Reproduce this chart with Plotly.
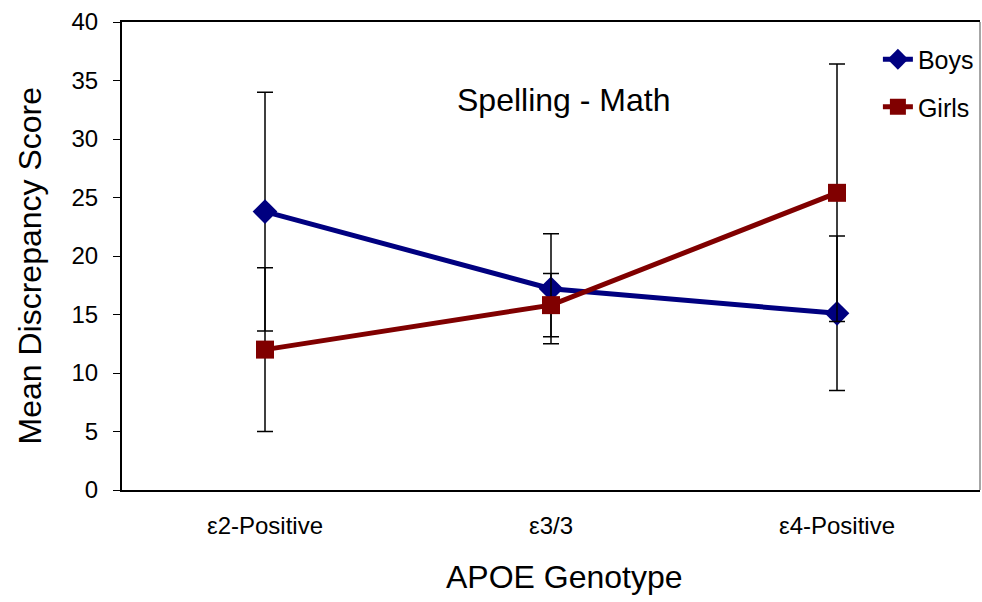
import plotly.graph_objects as go

categories = ["ε2-Positive", "ε3/3", "ε4-Positive"]
boys = [23.8, 17.2, 15.1]
boys_err = [10.2, 4.7, 6.6]
girls = [12.0, 15.8, 25.4]
girls_err = [7.0, 2.7, 11.0]
y_ticks = [0, 5, 10, 15, 20, 25, 30, 35, 40]

FONT = "Liberation Sans, Arial, sans-serif"

fig = go.Figure()
fig.add_trace(go.Scatter(
    x=categories, y=boys, name="Boys", legendgroup="b",
    mode="lines+markers",
    line=dict(color="#000080", width=5),
    marker=dict(symbol="diamond", size=19, color="#000080"),
    error_y=dict(type="data", array=boys_err, color="black", thickness=1.5, width=8),
))
fig.add_trace(go.Scatter(
    x=categories, y=girls, name="Girls", legendgroup="g",
    mode="lines+markers",
    line=dict(color="#800000", width=5),
    marker=dict(symbol="square", size=18, color="#800000"),
    error_y=dict(type="data", array=girls_err, color="black", thickness=1.5, width=8),
))

fig.add_annotation(
    x=0.5146, y=0.833, xref="paper", yref="paper",
    xanchor="center", yanchor="middle",
    text="Spelling - Math", showarrow=False,
    font=dict(family=FONT, size=32, color="black"),
)

# x-axis title
fig.add_annotation(
    x=0.516, y=0, xref="paper", yref="paper",
    xanchor="center", yanchor="middle", yshift=-87,
    text="APOE Genotype", showarrow=False,
    font=dict(family=FONT, size=32, color="black"),
)

# y-axis title
fig.add_annotation(
    x=0, y=0.4776, xref="paper", yref="paper",
    xanchor="center", yanchor="middle", xshift=-92,
    text="Mean Discrepancy Score", showarrow=False, textangle=-90,
    font=dict(family=FONT, size=32, color="black"),
)

# right border of the plot frame
fig.add_shape(type="line", xref="paper", yref="paper", x0=1, x1=1, y0=0, y1=1,
              line=dict(color="#888888", width=1.5))

fig.update_layout(
    width=982, height=602,
    margin=dict(l=122, r=2, t=22, b=112),
    paper_bgcolor="white", plot_bgcolor="white",
    font=dict(family=FONT, color="black"),
    showlegend=True,
    legend=dict(
        x=0.881, y=0.969, xanchor="left", yanchor="top",
        font=dict(family=FONT, size=25, color="black"),
        bgcolor="rgba(0,0,0,0)", tracegroupgap=12,
    ),
    xaxis=dict(
        type="category", range=[-0.5, 2.5],
        showline=True, linecolor="black", linewidth=2, mirror=True,
        ticks="", showgrid=False, zeroline=False,
        tickfont=dict(family=FONT, size=24, color="black"),
        ticklabelstandoff=13,
    ),
    yaxis=dict(
        range=[0, 40], tickvals=y_ticks,
        showline=True, linecolor="black", linewidth=2,
        ticks="outside", ticklen=7, tickcolor="black", tickwidth=1,
        showgrid=False, zeroline=False,
        tickfont=dict(family=FONT, size=24, color="black"),
        ticklabelstandoff=10,
    ),
)

fig.write_html("out.html")
